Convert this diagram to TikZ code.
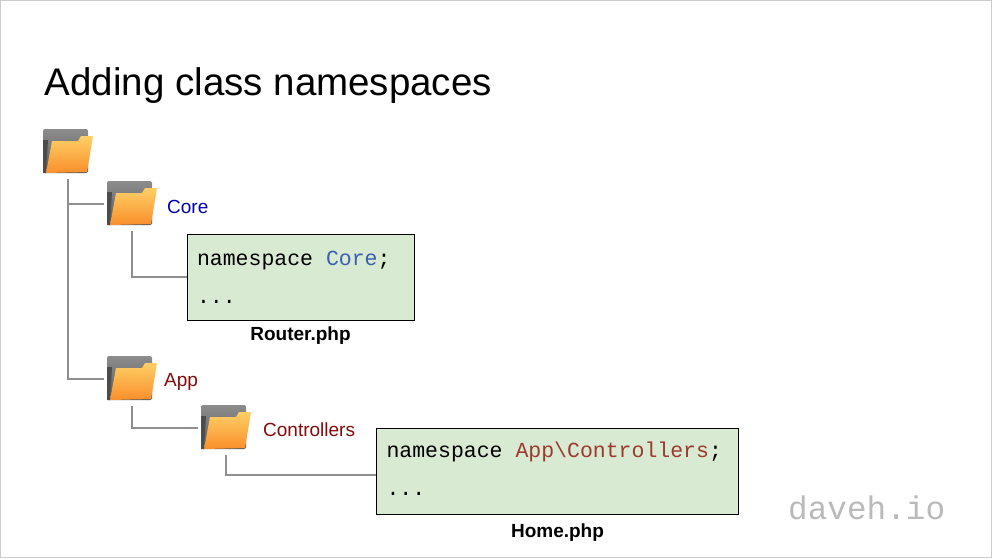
\documentclass[tikz,border=0pt]{standalone}
\usepackage{fontspec}
\setmainfont{Liberation Sans}
\setmonofont{Liberation Mono}
\usepackage{xcolor}
\usetikzlibrary{positioning}
\definecolor{CoreBlue}{HTML}{0000B0}
\definecolor{AppRed}{HTML}{850A0A}
\definecolor{CodeBlue}{HTML}{3A5FB0}
\definecolor{CodeRed}{HTML}{9C3A2E}
\definecolor{Soft}{HTML}{D9EAD3}
\definecolor{Branch}{HTML}{8F8F8F}
\definecolor{FolderTop}{HTML}{FFCF66}
\definecolor{FolderMid}{HTML}{FFB84D}
\definecolor{FolderLow}{HTML}{F98F2B}
\tikzset{
  folder/.style={minimum width=52pt,minimum height=46pt,inner sep=0pt,outer xsep=2pt,outer ysep=4pt,
    path picture={
      \shade[top color=black!45,bottom color=black!65,rounded corners=2pt] (-25,-23)--(20,-23)--(20,21)--(-25,21)--cycle;
      \fill[black!70] (-25,-12)--(-20,-12)--(-22,21)--(-25,21)--cycle;
      \shade[top color=FolderTop,middle color=FolderMid,bottom color=FolderLow,rounded corners=0.5pt]
        (-16,-11)--(10,-11)--(13,-16)--(25,-16)--(19,20)--(-22,21)--cycle;
    }},
  label/.style={inner sep=0pt,font=\fontsize{19}{19}\selectfont},
  codebox/.style={draw=black,fill=Soft,line width=0.8pt,align=flush left,inner sep=0pt,inner xsep=10pt,
    font=\ttfamily\fontsize{21.5}{38}\selectfont},
  tree/.style={draw=Branch,line width=1.2pt}
}
\begin{document}
\begin{tikzpicture}[x=1pt,y=-1pt]
  \draw[black!20,line width=1pt] (0.5,0.5) rectangle (991.5,557.5);
  \useasboundingbox (0,0) rectangle (992,558);
  \node[anchor=west,inner sep=0pt,font=\fontsize{38.5}{40}\selectfont] (title) at (44.5,86) {Adding class namespaces};
  \node[folder] (root) at (68,152) {};
  \node[folder] (core) at (132,204) {};
  \node[folder] (app) at (132,379) {};
  \node[folder] (ctrl) at (226,428) {};
  \node[label,text=CoreBlue,right=7pt of core,yshift=-2.5pt] (corelabel) {Core};
  \node[label,text=AppRed,right=4pt of app,yshift=-2.5pt] (applabel) {App};
  \node[label,text=AppRed,right=9pt of ctrl,yshift=-1.5pt] (ctrllabel) {Controllers};
  \node[codebox,minimum width=227pt,minimum height=86pt,text width=207pt] (router) at (300.5,277)
    {namespace \textcolor{CodeBlue}{Core};\\...};
  \node[codebox,minimum width=362pt,minimum height=86pt,text width=342pt] (home) at (557.5,471)
    {namespace \textcolor{CodeRed}{App\textbackslash Controllers};\\...\rule[-4pt]{0pt}{4pt}};
  \node[label,font=\fontsize{19}{19}\selectfont\bfseries,below=6pt of router] (routerfile) {Router.php};
  \node[label,font=\fontsize{19}{19}\selectfont\bfseries,below=9pt of home] (homefile) {Home.php};
  \node[anchor=west,inner sep=0pt,text=black!27,font=\ttfamily\fontsize{32.7}{34}\selectfont] (mark) at (788,508) {daveh.io};
  \draw[tree] (root.south)|-(core.west);\draw[tree] (root.south)|-(app.west);
  \draw[tree] (core.south)|-(router.west);\draw[tree] (app.south)|-(ctrl.west);
  \draw[tree] (ctrl.south)|-([yshift=-4pt]home.west);
\end{tikzpicture}
\end{document}
